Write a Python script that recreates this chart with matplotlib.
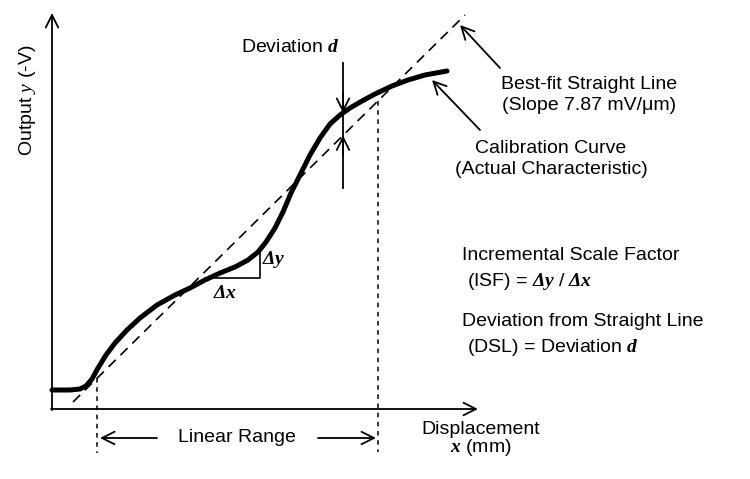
import numpy as np
import matplotlib
matplotlib.use('Agg')
from matplotlib import pyplot as plt

plt.rcParams['font.family'] = ['Liberation Sans', 'DejaVu Sans']
plt.rcParams['mathtext.fontset'] = 'custom'
plt.rcParams['mathtext.rm'] = 'Liberation Sans'
plt.rcParams['mathtext.it'] = 'Liberation Serif:italic'
plt.rcParams['mathtext.bf'] = 'Liberation Serif:bold'
plt.rcParams['mathtext.bfit'] = 'Liberation Serif:italic:bold'

# calibration curve (actual characteristic)
curve_x = [0, 18, 28, 34, 40, 46, 54, 63, 75, 88, 105, 123, 138, 153, 168, 183,
           196, 206, 214, 223, 231, 239, 248, 258, 268, 278, 288, 298, 310,
           323, 340, 356, 373, 395]
curve_y = [19, 19, 20, 23, 30, 41, 54, 66, 79, 91, 104, 114, 121, 129, 136, 142,
           149, 157, 167, 181, 197, 216, 234, 254, 271, 285, 294, 301, 308,
           315, 323, 329, 334, 338]

# best-fit straight line end points
fit_x = [21, 413]
fit_y = [7, 394]

# linear range limits and the deviation location
range_lo = 45
range_hi = 326
dev_x = 291
# increment triangle
tri_x = [153, 208]

fig = plt.figure(figsize=(7.5, 4.79), dpi=100)
ax = fig.add_axes([0, 0, 1, 1])
ax.set_xlim(-52, 698)
ax.set_ylim(-70, 409)
ax.axis('off')

fs = 14
arrow = dict(arrowstyle='->,head_length=0.9,head_width=0.45', lw=1.3,
             color='black', shrinkA=0, shrinkB=0)

# axes
ax.annotate('', xy=(0, 396), xytext=(0, -1), arrowprops=arrow)
ax.annotate('', xy=(426, 0), xytext=(-1, 0), arrowprops=arrow)

# best-fit line and calibration curve
ax.plot(fit_x, fit_y, color='black', lw=1.2, dashes=(6, 4))
ax.plot(curve_x, curve_y, color='black', lw=3.6, solid_joinstyle='round',
        solid_capstyle='round')

# linear range dotted verticals
lo_top = np.interp(range_lo, fit_x, fit_y)
hi_top = np.interp(range_hi, fit_x, fit_y)
ax.plot([range_lo, range_lo], [lo_top, -44], color='black', lw=1.1, dashes=(3, 3))
ax.plot([range_hi, range_hi], [hi_top, -43], color='black', lw=1.1, dashes=(3, 3))

# linear range arrows
ax.annotate('', xy=(range_lo + 3, -29), xytext=(105, -29), arrowprops=arrow)
ax.annotate('', xy=(range_hi - 2, -29), xytext=(266, -29), arrowprops=arrow)
ax.text(185, -29, 'Linear Range', ha='center', va='center', fontsize=fs)

# deviation marker
dev_curve = np.interp(dev_x, curve_x, curve_y)
dev_fit = np.interp(dev_x, fit_x, fit_y)
ax.plot([dev_x, dev_x], [221, 346], color='black', lw=1.3)
ax.annotate('', xy=(dev_x, dev_curve), xytext=(dev_x, dev_curve + 20),
            arrowprops=arrow)
ax.annotate('', xy=(dev_x, dev_fit), xytext=(dev_x, dev_fit - 20),
            arrowprops=arrow)
ax.text(238, 362, r'Deviation $\mathbfit{d}$', ha='center', va='center', fontsize=fs)

# increment triangle
tri_y = np.interp(tri_x[1], curve_x, curve_y)
ax.plot([tri_x[0], tri_x[1], tri_x[1]], [131, 131, tri_y], color='black', lw=1.2)
ax.text(tri_x[1] + 2, 149, r'$\mathbfit{\Delta y}$', ha='left', va='center', fontsize=fs)
ax.text(173, 115, r'$\mathbfit{\Delta x}$', ha='center', va='center', fontsize=fs)

# axis labels
ax.text(-24, 309, r'Output $\mathit{y}$ (-V)', rotation=90, ha='center', va='center',
        fontsize=fs)
ax.text(429, -21, 'Displacement', ha='center', va='center', fontsize=fs)
ax.text(429, -39, r'$\mathbfit{x}$ (mm)', ha='center', va='center', fontsize=fs)

# callouts
ax.annotate('', xy=(408, 384), xytext=(448, 341), arrowprops=arrow)
ax.text(537, 314, 'Best-fit Straight Line\n(Slope 7.87 mV/\u03bcm)', ha='center',
        va='center', fontsize=fs, linespacing=1.25)
ax.annotate('', xy=(380, 329), xytext=(428, 279), arrowprops=arrow)
ax.text(499, 250, 'Calibration Curve\n(Actual Characteristic)', ha='center',
        va='center', fontsize=fs, linespacing=1.25)

# definitions
ax.text(410, 154, 'Incremental Scale Factor', ha='left', va='center', fontsize=fs)
ax.text(415, 127, r'(ISF) = $\mathbfit{\Delta y}\ /\ \mathbfit{\Delta x}$', ha='left',
        va='center', fontsize=fs)
ax.text(410, 87, 'Deviation from Straight Line', ha='left', va='center', fontsize=fs)
ax.text(415, 61, r'(DSL) = Deviation $\mathbfit{d}$', ha='left', va='center', fontsize=fs)

fig.savefig('out.png', dpi=100)
